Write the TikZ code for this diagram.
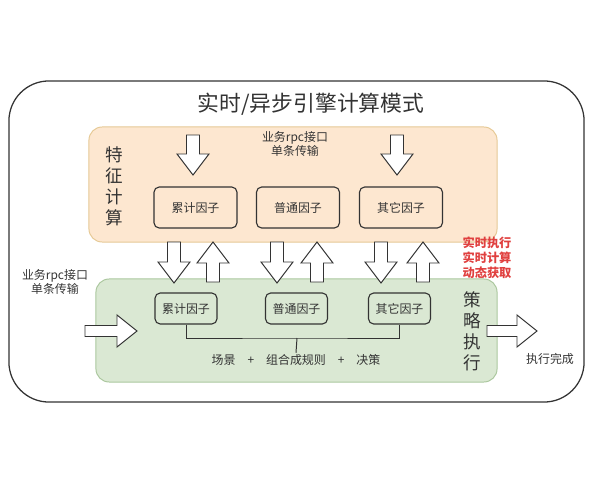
\documentclass[tikz,border=0pt]{standalone}
\usepackage{fontspec}
\setmainfont{Noto Sans CJK SC}
\usetikzlibrary{calc,positioning}
\definecolor{peach}{HTML}{FDE7D0}
\definecolor{peachline}{HTML}{E6C995}
\definecolor{sage}{HTML}{DAE8D3}
\definecolor{sageline}{HTML}{ABC79E}
\definecolor{alertred}{HTML}{E0403F}
\definecolor{ink}{HTML}{333333}
\tikzset{
  frame/.style={draw=ink,line width=0.9pt,rounded corners=1cm,minimum width=14.375cm,minimum height=8.025cm},
  layer/.style={line width=0.7pt,rounded corners=0.33cm},
  factor/.style={draw=ink,line width=0.8pt,rounded corners=0.13cm,inner sep=0pt,text=ink,font=\fontsize{8.5}{10}\selectfont},
  topfactor/.style={factor,minimum width=2.075cm,minimum height=1.025cm},
  lowfactor/.style={factor,minimum width=1.55cm,minimum height=0.775cm},
  vlabel/.style={align=center,inner sep=0pt,text=ink,font=\fontsize{12.5}{15}\selectfont},
  note/.style={align=center,inner sep=1pt,text=ink,font=\fontsize{8.5}{10}\selectfont},
  fatarrow/.style={draw=ink,fill=white,line width=0.7pt,line join=miter},
  bracket/.style={draw=ink,line width=0.7pt}
}
\newcommand{\fatdown}[2]{\draw[fatarrow] ($(#1)+(-6.5,0)$) -- ($(#2)+(-6.5,-21)$) -- ($(#2)+(-16,-21)$) -- (#2) -- ($(#2)+(16,-21)$) -- ($(#2)+(6.5,-21)$) -- ($(#1)+(6.5,0)$) -- cycle;}
\newcommand{\fatup}[2]{\draw[fatarrow] ($(#1)+(-6.5,0)$) -- ($(#2)+(-6.5,21)$) -- ($(#2)+(-16,21)$) -- (#2) -- ($(#2)+(16,21)$) -- ($(#2)+(6.5,21)$) -- ($(#1)+(6.5,0)$) -- cycle;}
\newcommand{\fatright}[2]{\draw[fatarrow] ($(#1)+(0,-5.5)$) -- ($(#2)+(-20,-5.5)$) -- ($(#2)+(-20,-16)$) -- (#2) -- ($(#2)+(-20,16)$) -- ($(#2)+(-20,5.5)$) -- ($(#1)+(0,5.5)$) -- cycle;}

\begin{document}
\begin{tikzpicture}[x=0.025cm,y=-0.025cm]
  \useasboundingbox (0,0) rectangle (600,480);
  \node[frame] (engine) at (296.5,241.5) {};
  \node[text=ink,inner sep=0pt,font=\fontsize{15.5}{18}\selectfont] (title) at (311,104) {实时/异步引擎计算模式};

  \node[layer,fill=peach,draw=peachline,minimum width=10.2cm,minimum height=2.875cm] (feat) at (293,184.5) {};
  \node[layer,fill=sage,draw=sageline,minimum width=10.025cm,minimum height=2.575cm] (strat) at (296.5,330.5) {};
  \node[vlabel] (feat-name) at (114,186) {特\\征\\计\\算};
  \node[vlabel] (strat-name) at (472,331) {策\\略\\执\\行};

  \node[topfactor] (feat-acc) at (195.5,207.5) {累计因子};
  \node[topfactor] (feat-norm) at (298,207.5) {普通因子};
  \node[topfactor] (feat-other) at (401,207.5) {其它因子};
  \node[lowfactor] (strat-acc) at (186,308.5) {累计因子};
  \node[lowfactor] (strat-norm) at (296.5,308.5) {普通因子};
  \node[lowfactor] (strat-other) at (399.5,308.5) {其它因子};

  \node[note] (rpc-top) at (295,144) {业务rpc接口\\单条传输};
  \node[note] (rpc-left) at (55,282) {业务rpc接口\\单条传输};
  \node[note] (done) at (550,359) {执行完成};
  \node[note,text=alertred,font=\fontsize{8.7}{10.7}\selectfont\bfseries] (live) at (487,258) {实时执行\\实时计算\\动态获取};
  \node[note] (rule) at (296,360) {场景\quad{}+\quad{}组合成规则\quad{}+\quad{}决策};

  \coordinate (join) at (297,338);
  \draw[bracket] (strat-acc.south) |- (join) -| (strat-other.south);
  \draw[bracket] (join) -- (rule.north);

  \coordinate (feed-a) at (193,135);
  \coordinate (feed-a-tip) at (193,175);
  \coordinate (feed-b) at (397,135);
  \coordinate (feed-b-tip) at (397,175);
  \fatdown{feed-a}{feed-a-tip}
  \fatdown{feed-b}{feed-b-tip}

  \foreach \f/\dx/\ux in {acc/174/213,norm/277/317,other/381/423} {
    \coordinate (\f-down) at (\dx,242);
    \coordinate (\f-down-tip) at (\dx,283);
    \coordinate (\f-up) at (\ux,282);
    \coordinate (\f-up-tip) at (\ux,242);
    \fatdown{\f-down}{\f-down-tip}
    \fatup{\f-up}{\f-up-tip}
  }

  \coordinate (enter) at (85,331);
  \coordinate (enter-tip) at (137,331);
  \coordinate (leave) at (487,331);
  \coordinate (leave-tip) at (537,331);
  \fatright{enter}{enter-tip}
  \fatright{leave}{leave-tip}
\end{tikzpicture}
\end{document}
